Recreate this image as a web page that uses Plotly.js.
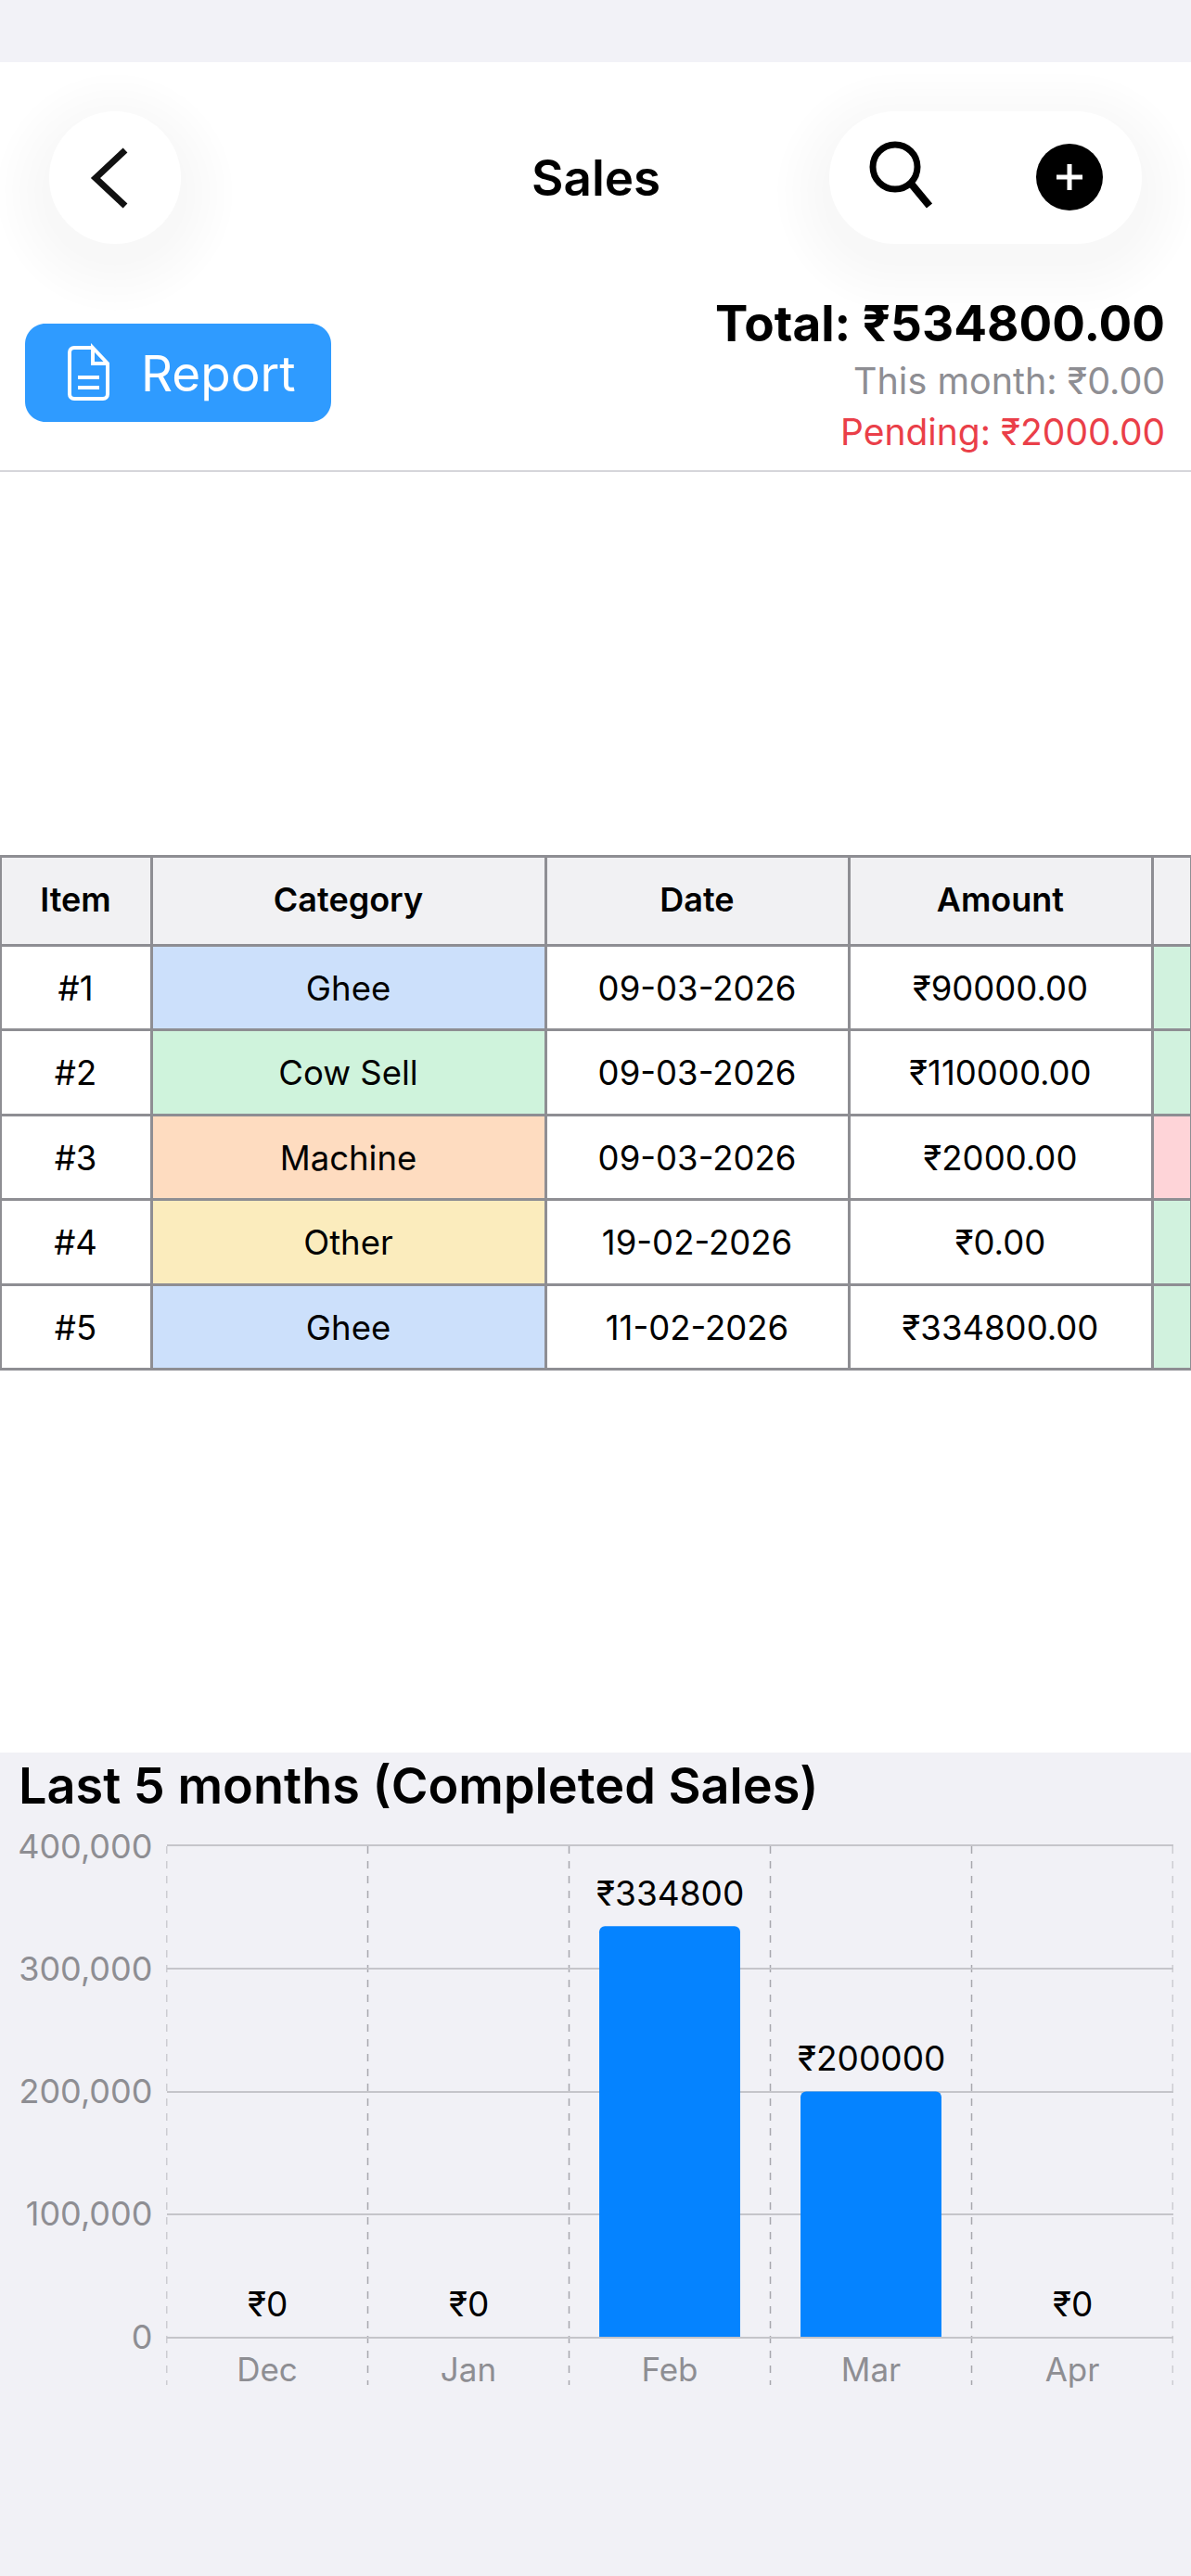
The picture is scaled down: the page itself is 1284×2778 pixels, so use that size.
<!DOCTYPE html>
<html>
<head>
<meta charset="utf-8">
<script src="https://cdn.plot.ly/plotly-3.0.1.min.js"></script>
<style>html,body{margin:0;padding:0;background:#fff}</style>
</head>
<body>
<div id="myDiv"></div>
<script>
var W = 1284, H = 2778;
var FONT = 'Inter, "Noto Sans", "DejaVu Sans", sans-serif';

// chart data
var months = ["Dec", "Jan", "Feb", "Mar", "Apr"];
var monthSales = [0, 0, 334800, 200000, 0];
var yTicks = [0, 100000, 200000, 300000, 400000];

// table data
var tableHeaders = ["Item", "Category", "Date", "Amount", ""];
var items = ["#1", "#2", "#3", "#4", "#5"];
var categories = ["Ghee", "Cow Sell", "Machine", "Other", "Ghee"];
var dates = ["09-03-2026", "09-03-2026", "09-03-2026", "19-02-2026", "11-02-2026"];
var amounts = ["₹90000.00", "₹110000.00", "₹2000.00", "₹0.00", "₹334800.00"];
var statuses = ["", "", "", "", ""];
var categoryFills = ["#cce0fb", "#cff3dc", "#fedcc0", "#fbecbd", "#cce0fb"];
var statusFills = ["#d1f2de", "#d1f2de", "#fed4d8", "#d1f2de", "#d1f2de"];
var columnWidths = [163, 425, 327, 327, 42];

function px(x) { return x / W; }
function py(y) { return 1 - y / H; }

function pathOf(cmds) {
  // cmds is a list like ["M", x, y, "L", x, y]
  var out = "", i = 0;
  while (i < cmds.length) {
    var c = cmds[i++];
    out += c;
    if (c === "Z") continue;
    var n = c === "C" ? 3 : 1;
    for (var k = 0; k < n; k++) {
      out += px(cmds[i]) + "," + py(cmds[i + 1]) + " ";
      i += 2;
    }
  }
  return out;
}

function rrectPath(x0, y0, x1, y1, r) {
  var q = r * 0.45;
  return pathOf([
    "M", x0 + r, y0, "L", x1 - r, y0,
    "C", x1 - q, y0, x1, y0 + q, x1, y0 + r,
    "L", x1, y1 - r,
    "C", x1, y1 - q, x1 - q, y1, x1 - r, y1,
    "L", x0 + r, y1,
    "C", x0 + q, y1, x0, y1 - q, x0, y1 - r,
    "L", x0, y0 + r,
    "C", x0, y0 + q, x0 + q, y0, x0 + r, y0, "Z"
  ]);
}

function box(x0, y0, x1, y1, color) {
  return { type: "rect", xref: "paper", yref: "paper", layer: "below",
    x0: px(x0), x1: px(x1), y0: py(y0), y1: py(y1),
    fillcolor: color, line: { width: 0 } };
}
function filled(path, color) {
  return { type: "path", xref: "paper", yref: "paper", layer: "below", path: path,
    fillcolor: color, line: { width: 0 } };
}
function stroked(path, color, width) {
  return { type: "path", xref: "paper", yref: "paper", layer: "below", path: path,
    line: { color: color, width: width } };
}
function disc(cx, cy, r, fill, lineColor, lineWidth) {
  return { type: "circle", xref: "paper", yref: "paper", layer: "below",
    x0: px(cx - r), x1: px(cx + r), y0: py(cy - r), y1: py(cy + r),
    fillcolor: fill, line: { color: lineColor || fill, width: lineWidth || 0 } };
}
function label(text, x, y, size, color, anchor, weight) {
  return { text: text, xref: "paper", yref: "paper", x: px(x), y: py(y),
    xanchor: anchor, yanchor: "middle", showarrow: false,
    font: { family: FONT, size: size, color: color, weight: weight || 400 } };
}

var shapes = [];
// page sections
shapes.push(box(0, 0, W, 67, "#f2f2f7"));
shapes.push(box(0, 1890, W, H, "#f1f1f6"));
shapes.push(box(0, 507, W, 509, "#d6d6da"));

// soft shadows behind the toolbar pills
[[53, 120, 195, 263], [894, 120, 1231, 263]].forEach(function (p) {
  for (var i = 1; i <= 7; i++) {
    var g = i * 8;
    shapes.push(filled(rrectPath(p[0] - g, p[1] - g + 16, p[2] + g, p[3] + g + 16, 72 + g), "rgba(0,0,0,0.002)"));
  }
  shapes.push(filled(rrectPath(p[0], p[1], p[2], p[3], 71), "#ffffff"));
});

// back chevron
shapes.push(stroked(pathOf(["M", 135, 162, "L", 103, 192, "L", 135, 222]), "#111111", 7));
// search
shapes.push(disc(965, 180, 24, "rgba(0,0,0,0)", "#000000", 7));
shapes.push(stroked(pathOf(["M", 983, 199, "L", 1002, 222]), "#000000", 8));
// plus
shapes.push(disc(1153, 191, 36, "#000000"));
shapes.push(stroked(pathOf(["M", 1153, 177, "L", 1153, 205]), "#ffffff", 5));
shapes.push(stroked(pathOf(["M", 1139, 191, "L", 1167, 191]), "#ffffff", 5));
// report button
shapes.push(filled(rrectPath(27, 349, 357, 455, 22), "#2f9bff"));
shapes.push(stroked(pathOf(["M", 100, 375, "L", 80, 375, "C", 77, 375, 75, 377, 75, 380,
  "L", 75, 425, "C", 75, 428, 77, 430, 80, 430, "L", 111, 430,
  "C", 114, 430, 116, 428, 116, 425, "L", 116, 392, "L", 100, 375, "L", 100, 392, "L", 116, 392]), "#ffffff", 4));
shapes.push(stroked(pathOf(["M", 84, 407, "L", 107, 407]), "#ffffff", 4));
shapes.push(stroked(pathOf(["M", 84, 418, "L", 107, 418]), "#ffffff", 4));

// dashed column separators of the chart
for (var i = 0; i <= months.length; i++) {
  shapes.push({ type: "line", xref: "x", yref: "paper", layer: "below",
    x0: i - 0.5, x1: i - 0.5, y0: py(1991), y1: py(2572),
    line: { color: "#a8a8ae", width: 1.5, dash: "8px,8px" } });
}

var annotations = [
  label("Sales", 642, 192, 53, "#000000", "center", 600),
  label("Report", 150, 403, 53, "#ffffff", "left", 400),
  label("Total: ₹534800.00", 1258, 349, 53, "#000000", "right", 700),
  label("This month: ₹0.00", 1258, 411, 39.5, "#8e8e93", "right", 400),
  label("Pending: ₹2000.00", 1258, 465, 39, "#ea3f49", "right", 400),
  label("Last 5 months (Completed Sales)", 18, 1925, 54, "#000000", "left", 600)
];

// value labels above each bar, placed through the axes
months.forEach(function (m, i) {
  annotations.push({ text: "₹" + monthSales[i], xref: "x", yref: "y", x: m, y: monthSales[i],
    yshift: 36, xanchor: "center", yanchor: "middle", showarrow: false,
    font: { family: FONT, size: 37, color: "#000000" } });
});

// table text has no vertical centring, so push it down with a blank first line
function lowered(list, size) {
  return list.map(function (t) {
    return t ? '&#160;<br><span style="font-size:' + size + 'px">' + t + "</span>" : "";
  });
}
var whites = items.map(function () { return "#ffffff"; });

var table = {
  type: "table",
  domain: { x: [0, 1], y: [py(1478), py(923)] },
  columnwidth: columnWidths,
  header: {
    values: tableHeaders.map(function (h) { return lowered([h], 36); }),
    height: 96,
    align: "center",
    fill: { color: "#f1f1f3" },
    line: { color: "#8e8e93", width: 3 },
    font: { family: FONT, size: 23, color: "#000000", weight: 600 }
  },
  cells: {
    values: [lowered(items, 36.5), lowered(categories, 36.5), lowered(dates, 36.5), lowered(amounts, 36.5), statuses],
    height: 91.5,
    align: "center",
    fill: { color: [whites, categoryFills, whites, whites, statusFills] },
    line: { color: "#8e8e93", width: 3 },
    font: { family: FONT, size: 23, color: "#000000" }
  }
};

var bars = {
  type: "bar",
  x: months,
  y: monthSales,
  marker: { color: "#0583ff", cornerradius: 6, line: { width: 0 } },
  hoverinfo: "skip"
};

var layout = {
  width: W, height: H,
  margin: { t: 0, r: 0, l: 0, b: 0 },
  paper_bgcolor: "#ffffff",
  plot_bgcolor: "rgba(0,0,0,0)",
  showlegend: false,
  bargap: 0.3,
  font: { family: FONT },
  xaxis: {
    domain: [px(179.5), px(1264.5)],
    range: [-0.5, 4.5],
    type: "category",
    categoryorder: "array",
    categoryarray: months,
    showgrid: false,
    zeroline: false,
    showline: true,
    mirror: true,
    linecolor: "#c5c5ca",
    linewidth: 2,
    ticks: "",
    ticklabelstandoff: 4,
    tickfont: { family: FONT, size: 35, color: "#8e8e93" }
  },
  yaxis: {
    domain: [py(2520), py(1991)],
    range: [0, 400000],
    tickvals: yTicks,
    tickformat: ",d",
    gridcolor: "#c5c5ca",
    gridwidth: 2,
    zeroline: false,
    showline: false,
    ticks: "",
    ticklabelstandoff: 14,
    tickfont: { family: FONT, size: 36, color: "#8e8e93" }
  },
  shapes: shapes,
  annotations: annotations
};

Plotly.newPlot("myDiv", [bars, table], layout, { displayModeBar: false, staticPlot: true });
</script>
</body>
</html>
